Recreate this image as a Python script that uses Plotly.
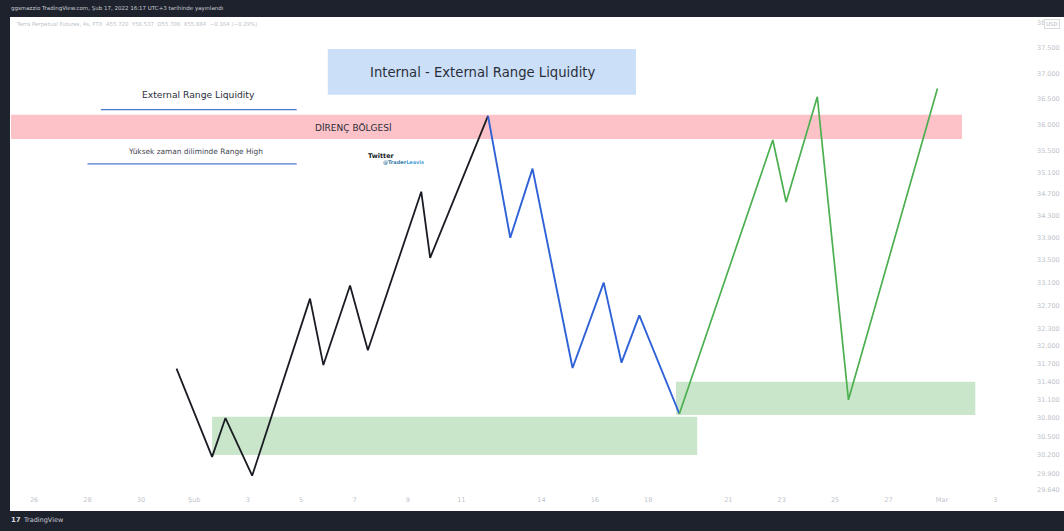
import plotly.graph_objects as go

# --- data ---
black_dates = ["2022-01-31 08:00","2022-02-01 16:00","2022-02-02 04:00","2022-02-03 04:00","2022-02-05 08:00","2022-02-05 20:00","2022-02-06 20:00","2022-02-07 12:00","2022-02-09 12:00","2022-02-09 20:00","2022-02-12 00:00"]
black_vals = [31.62,30.17,30.80,29.87,32.82,31.68,33.05,31.93,34.74,33.54,36.17]
blue_dates = ["2022-02-12 00:00","2022-02-12 20:00","2022-02-13 16:00","2022-02-15 04:00","2022-02-16 08:00","2022-02-17 00:00","2022-02-17 16:00","2022-02-19 04:00"]
blue_vals = [36.17,33.90,35.17,31.63,33.10,31.72,32.53,30.87]
green_dates = ["2022-02-19 04:00","2022-02-22 16:00","2022-02-23 04:00","2022-02-24 08:00","2022-02-25 12:00","2022-02-28 20:00"]
green_vals = [30.87,35.71,34.55,36.54,31.10,36.70]

# zones: (x0, x1, low, high)
resistance_zone = ("2022-01-25 03:14","2022-03-01 18:00",35.73,36.19)
green_zone_a = ("2022-02-01 16:00","2022-02-19 20:00",30.20,30.82)
green_zone_b = ("2022-02-19 01:00","2022-03-02 06:00",30.85,31.40)
title_box = ("2022-02-06 00:00","2022-02-17 13:00",36.58,37.48)
ext_line = ("2022-01-28 12:00","2022-02-04 20:00",36.29)
high_line = ("2022-01-28 00:00","2022-02-04 20:00",35.26)

x_tick_dates = ["2022-01-26","2022-01-28","2022-01-30","2022-02-01","2022-02-03","2022-02-05","2022-02-07","2022-02-09","2022-02-11","2022-02-14","2022-02-16","2022-02-18","2022-02-21","2022-02-23","2022-02-25","2022-02-27","2022-03-01","2022-03-03"]
x_tick_text = ["26","28","30","Şub","3","5","7","9","11","14","16","18","21","23","25","27","Mar","3"]
y_tick_vals = [38,37.5,37,36.5,36,35.5,35.1,34.7,34.3,33.9,33.5,33.1,32.7,32.3,32,31.7,31.4,31.1,30.8,30.5,30.2,29.9,29.64]
y_tick_text = ["38","37.500","37.000","36.500","36.000","35.500","35.100","34.700","34.300","33.900","33.500","33.100","32.700","32.300","32.000","31.700","31.400","31.100","30.800","30.500","30.200","29.900","29.640"]

FONT = "DejaVu Sans"
DARK = "#1e222d"
W, H = 1064, 531
L, R, T, B = 10, 51, 17, 37
PW, PH = W - L - R, H - T - B

fig = go.Figure()
for xs, ys, col, wid in [(black_dates, black_vals, "#1a1c24", 1.8),
                         (blue_dates, blue_vals, "#2f62d6", 1.9),
                         (green_dates, green_vals, "#4caf50", 1.7)]:
    fig.add_trace(go.Scatter(x=xs, y=ys, mode="lines", showlegend=False,
                             line=dict(color=col, width=wid), hoverinfo="skip"))

def zone(z, color):
    return dict(type="rect", xref="x", yref="y", x0=z[0], x1=z[1], y0=z[2], y1=z[3],
                fillcolor=color, line_width=0, layer="below")

def seg(z):
    return dict(type="line", xref="x", yref="y", x0=z[0], x1=z[1], y0=z[2], y1=z[2],
                line=dict(color="#4a78d0", width=1.3))

def band(x0, x1, y0, y1, color=DARK):
    return dict(type="rect", xref="paper", yref="paper", x0=x0, x1=x1, y0=y0, y1=y1,
                fillcolor=color, line_width=0, layer="above")

shapes = [
    zone(resistance_zone, "#fcc2c8"),
    zone(green_zone_a, "#cae6ca"),
    zone(green_zone_b, "#cae6ca"),
    zone(title_box, "#cbdff8"),
    seg(ext_line), seg(high_line),
    band(-L/PW, 0, -(B)/PH, 1 + T/PH),
    band(-L/PW, 1 + R/PW, 1, 1 + T/PH),
    band(-L/PW, 1 + R/PW, -B/PH, -(B-20)/PH),
]

def px(x, y):
    return (x - L) / PW, 1 - (y - T) / PH

def note(x, y, text, size, color="#131722", anchor="center", **kw):
    xp, yp = px(x, y)
    return dict(xref="paper", yref="paper", x=xp, y=yp, text=text, showarrow=False,
                xanchor=anchor, yanchor="middle", font=dict(family=FONT, size=size, color=color), **kw)

annotations = [
    note(482, 72, "Internal - External Range Liquidity", 13.2, "#2a2e39"),
    note(198, 95, "External Range Liquidity", 9.2, "#2a2e39"),
    note(353, 128, "DİRENÇ BÖLGESİ", 9, "#2a2e39"),
    note(195, 151, "Yüksek zaman diliminde Range High", 7.4, "#434651"),
    note(381, 156, "<b>Twitter</b>", 6.5, "#131722"),
    note(403, 162, "<b>@Trader<span style='color:#4a9fd8'>Leavis</span></b>", 5, "#3a7ca5"),
    note(9, 9, "ggsmazzio TradingView.com, Şub 17, 2022 16:17 UTC+3 tarihinde yayınlandı", 5.5, "#c8cbd3", "left"),
    note(14, 24, "Terra Perpetual Futures, 4s, FTX  A55.720  Y56.537  D55.706  K55.884  −0.164 (−0.29%)", 5.4, "#bcbfc7", "left"),
    note(9, 520, "<b>17</b>", 7, "#d1d4dc", "left"),
    note(21, 520, "TradingView", 6.5, "#c8cbd3", "left"),
    note(1052, 24, "USD", 5.5, "#b2b5be", bgcolor="#ffffff", bordercolor="#d8dae0", borderwidth=1, borderpad=1),
]

fig.update_layout(
    width=W, height=H, autosize=False,
    margin=dict(l=L, r=R, t=T, b=B, autoexpand=False),
    paper_bgcolor="#ffffff", plot_bgcolor="#ffffff",
    shapes=shapes, annotations=annotations, showlegend=False,
    font=dict(family=FONT),
    xaxis=dict(type="date", range=["2022-01-25 02:20","2022-03-03 15:54"], automargin=False,
               tickmode="array", tickvals=x_tick_dates, ticktext=x_tick_text,
               showgrid=False, zeroline=False, showline=False, ticks="",
               tickfont=dict(family=FONT, size=6.5, color="#c0c3ca")),
    yaxis=dict(type="log", range=[1.4710, 1.5812], side="right", automargin=False,
               tickmode="array", tickvals=y_tick_vals, ticktext=y_tick_text,
               showgrid=False, zeroline=False, showline=False, ticks="",
               ticklabelstandoff=23,
               tickfont=dict(family=FONT, size=6.5, color="#c0c3ca")),
)
fig.write_html("out.html", config={"displayModeBar": False},
               post_script="document.body.style.margin='0';document.body.style.overflow='hidden';")
